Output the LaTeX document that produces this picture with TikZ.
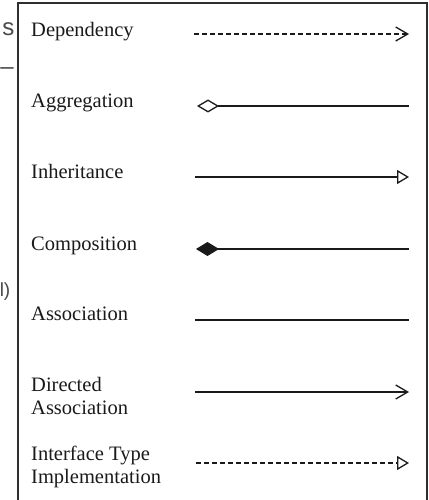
\documentclass[tikz,border=0pt]{standalone}
\usepackage{fontspec}
\setmainfont{Liberation Serif}
\newfontfamily\fragfont{Liberation Sans}
\usetikzlibrary{arrows.meta}

\definecolor{ink}{HTML}{1A1A1A}
\definecolor{frame}{HTML}{2E2E2E}
\definecolor{fragment}{HTML}{4A4A4A}

\tikzset{
  lbl/.style={anchor=base west, inner sep=0pt, text=ink,
    font=\fontsize{20.5}{23}\selectfont, align=left},
  frag/.style={anchor=base east, inner sep=0pt, text=fragment,
    font=\fragfont\fontsize{24}{28}\selectfont},
  rel/.style={draw=ink, line width=1.3pt},
  dashrel/.style={rel, dash pattern=on 5pt off 3pt},
  openhead/.style={-{Straight Barb[length=12pt,width=14pt,line width=1.3pt]}},
  trihead/.style={-{Triangle[open,length=12pt,width=14pt,line width=1.3pt,fill=white]}},
  hollowdiamond/.style={{Diamond[open,length=22pt,width=13pt,line width=1.3pt,fill=white]}-},
  soliddiamond/.style={{Diamond[length=23pt,width=14pt,fill=ink]}-},
}

\begin{document}
\begin{tikzpicture}[x=1pt,y=-1pt]
  \useasboundingbox (0,0) rectangle (428,500);
  \fill[white] (0,0) rectangle (428,500);

  % cut-off text from the neighbouring column
  \node[frag] (fragA) at (14.5,36) {s};
  \node[frag] (fragB) at (14,75) {–};
  \node[frag, font=\fragfont\fontsize{19}{22}\selectfont] (fragC) at (10.5,296) {l)};

  % legend frame (open at the bottom)
  \draw[frame, line width=1.4pt] (18,505) -- (18,3) -- (427,3) -- (427,505);

  % labels
  \node[lbl] (dep)  at (31,37)  {Dependency};
  \node[lbl] (agg)  at (31,107) {Aggregation};
  \node[lbl] (inh)  at (31,178) {Inheritance};
  \node[lbl] (comp) at (31,250) {Composition};
  \node[lbl] (assoc) at (31,320) {Association};
  \node[lbl, anchor=north west] (dassoc) at (31,377) {Directed\\Association};
  \node[lbl, anchor=north west] (iface)  at (31,446) {Interface Type\\Implementation};

  % connector end points
  \coordinate (dep-s)  at (194,34);  \coordinate (dep-e)  at (409,34);
  \coordinate (agg-s)  at (197,106); \coordinate (agg-e)  at (409,106);
  \coordinate (inh-s)  at (195,177); \coordinate (inh-e)  at (409,177);
  \coordinate (comp-s) at (196,249); \coordinate (comp-e) at (409,249);
  \coordinate (asc-s)  at (195,320); \coordinate (asc-e)  at (409,320);
  \coordinate (dasc-s) at (195,392); \coordinate (dasc-e) at (409,392);
  \coordinate (ifc-s)  at (196,463); \coordinate (ifc-e)  at (409,463);

  % relationship notations
  \draw[dashrel, openhead] (dep-s) -- (dep-e);
  \draw[rel, hollowdiamond] (agg-s) -- (agg-e);
  \draw[rel, trihead] (inh-s) -- (inh-e);
  \draw[rel, soliddiamond] (comp-s) -- (comp-e);
  \draw[rel] (asc-s) -- (asc-e);
  \draw[rel, openhead] (dasc-s) -- (dasc-e);
  \draw[dashrel, trihead] (ifc-s) -- (ifc-e);
\end{tikzpicture}
\end{document}
